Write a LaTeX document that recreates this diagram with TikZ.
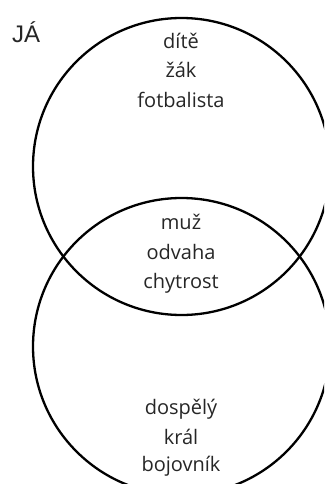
\documentclass[tikz,border=0pt]{standalone}
\usepackage{fontspec}
\setmainfont{Open Sans}
\newfontfamily\jafont{Liberation Sans}
\begin{document}
\begin{tikzpicture}[x=1pt,y=-1pt,
  ring/.style={draw=black,line width=2.3pt},
  word/.style={font=\fontsize{20}{24}\selectfont,text=black!85,inner sep=0pt,align=center}]
\useasboundingbox (0,0) rectangle (324,484);
\clip (0,0) rectangle (324,484);
\node[ring,circle,minimum size=297pt,inner sep=0pt] (top) at (181.5,166.5) {};
\node[ring,circle,minimum size=297pt,inner sep=0pt] (bot) at (181.5,346.5) {};
\node[font=\jafont\fontsize{24}{26}\selectfont,text=black!85,anchor=base west,inner sep=0pt] (ja) at (12,43) {JÁ};
\node[word,anchor=base] (t1) at (181,49) {dítě};
\node[word,anchor=base] (t2) at (181,78) {žák};
\node[word,anchor=base] (t3) at (181,107) {fotbalista};
\node[word,anchor=base] (m1) at (181,229) {muž};
\node[word,anchor=base] (m2) at (181,259) {odvaha};
\node[word,anchor=base] (m3) at (181,288) {chytrost};
\node[word,anchor=base] (b1) at (181,414) {dospělý};
\node[word,anchor=base] (b2) at (181,444) {král};
\node[word,anchor=base] (b3) at (181,471) {bojovník};
\end{tikzpicture}
\end{document}
